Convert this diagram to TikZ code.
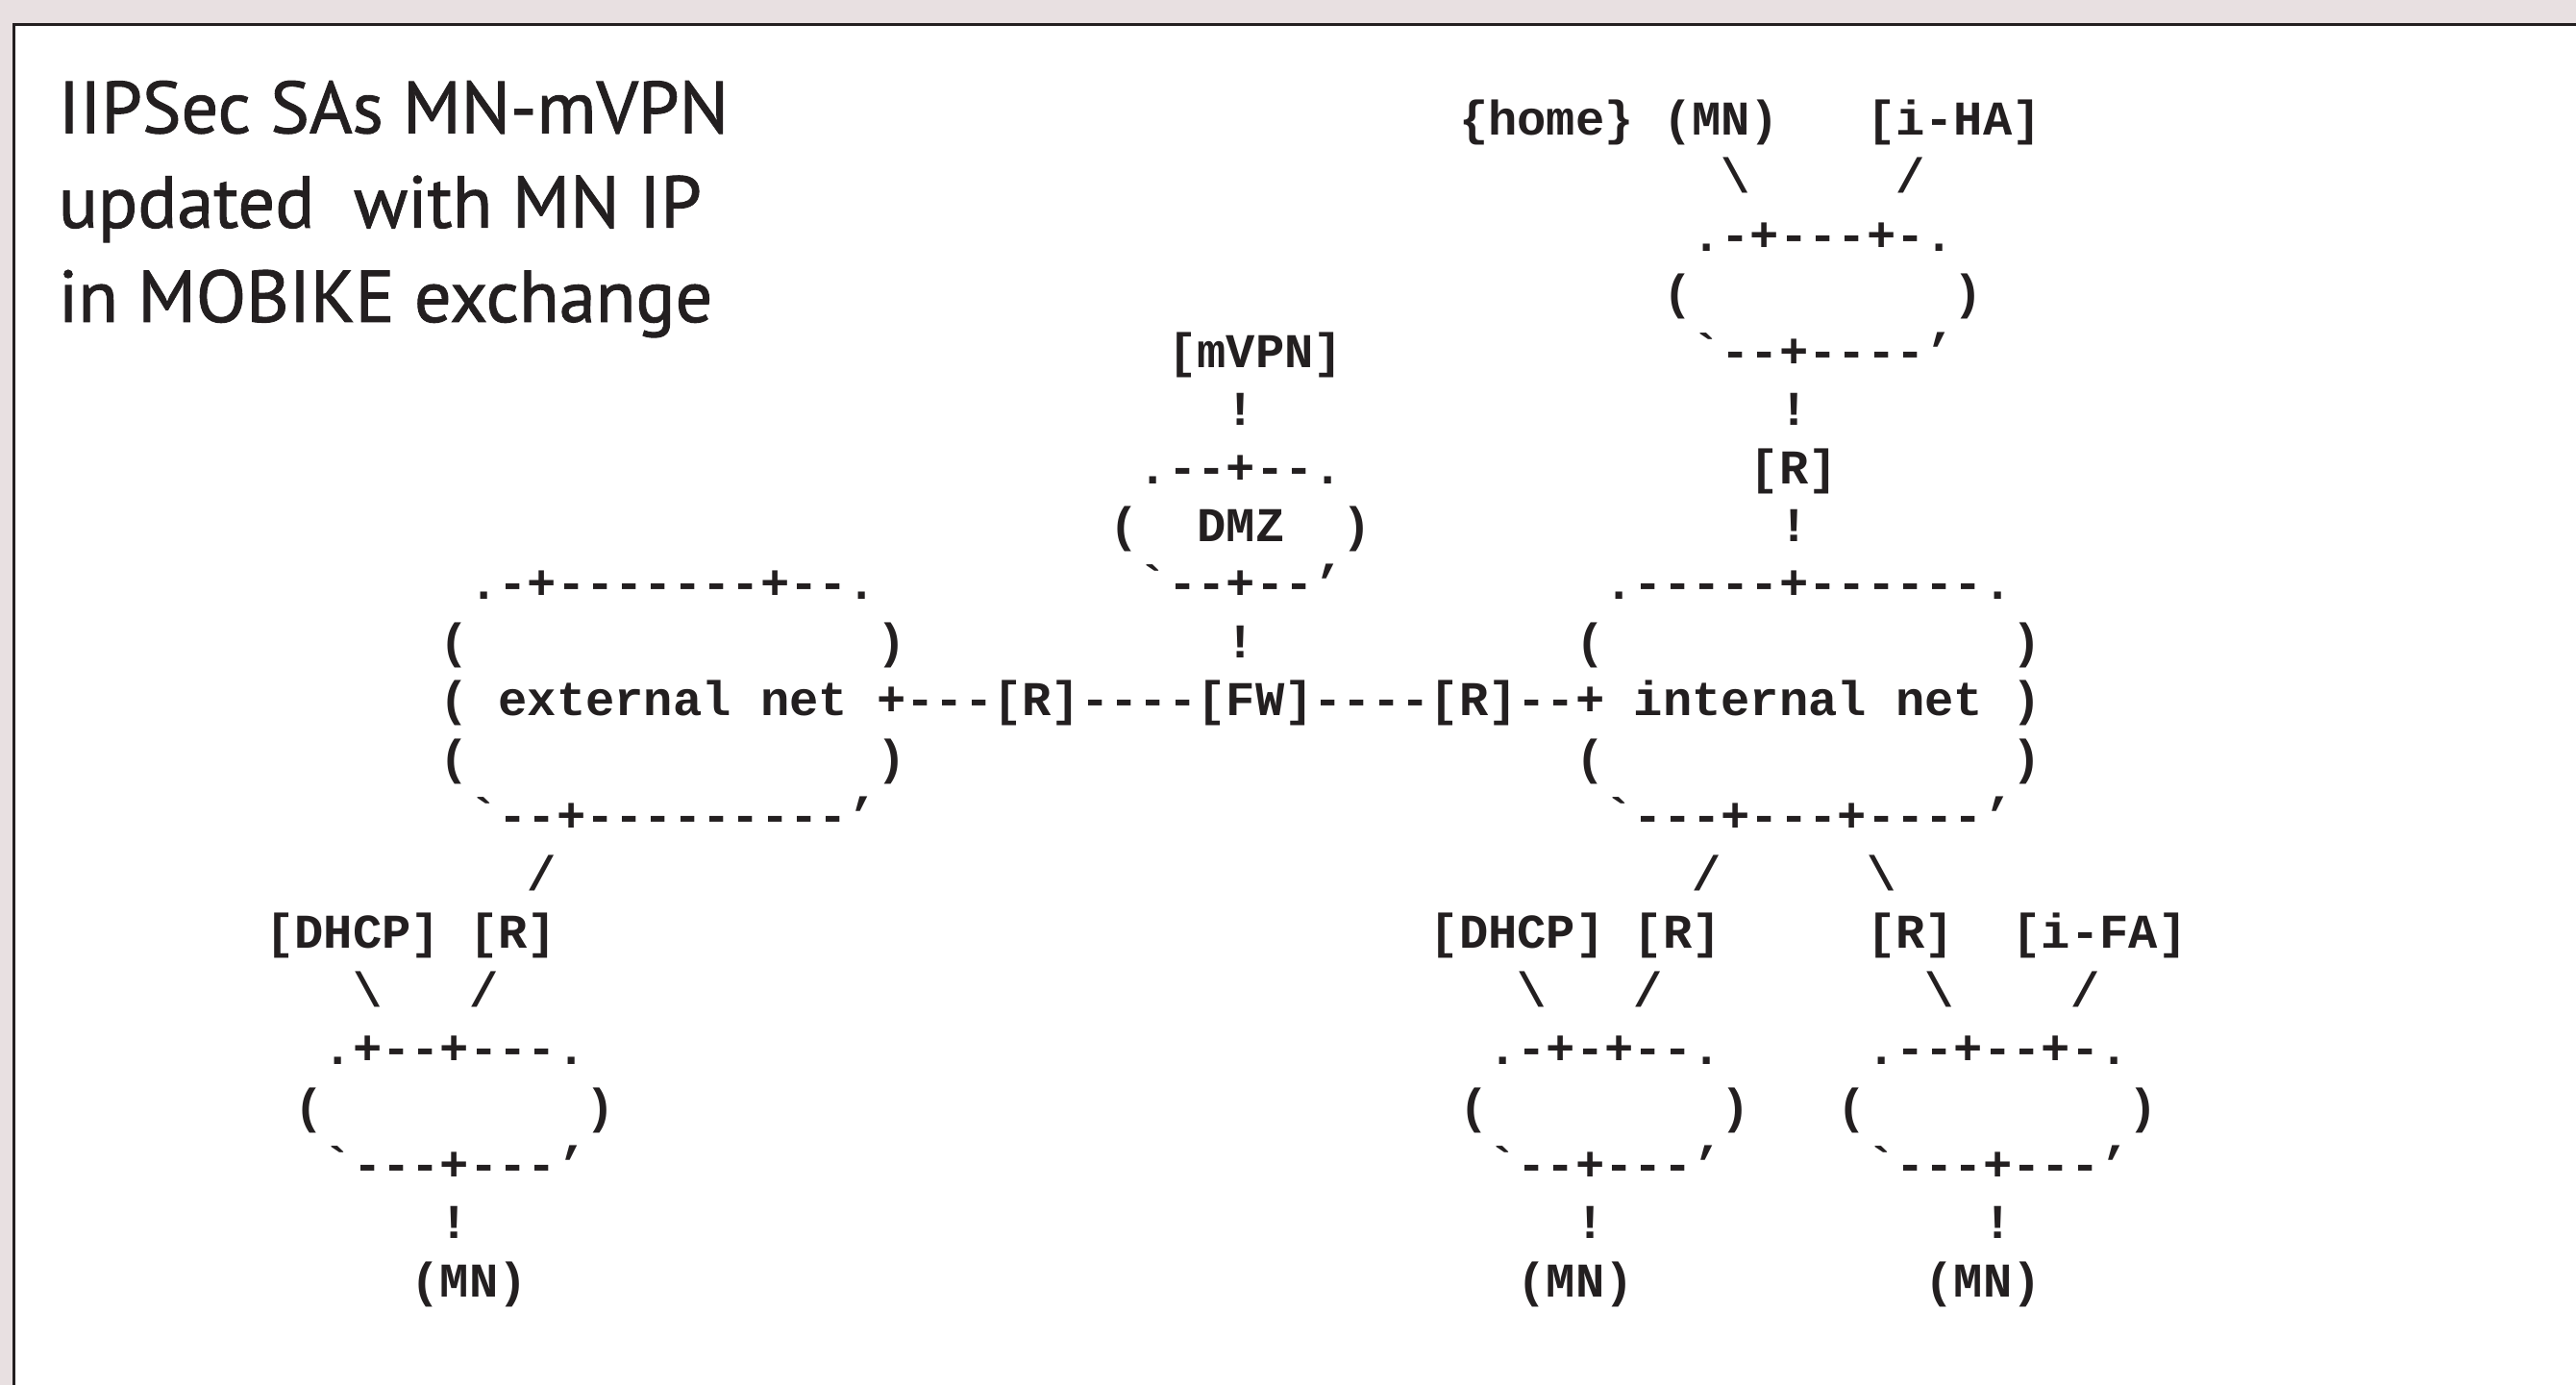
\documentclass[tikz,border=0pt]{standalone}
\usepackage{fontspec}
\setmainfont{PT Sans}
\newfontfamily\titlefont{PT Sans}[FakeBold=1.2]
\setmonofont{Liberation Mono}
\definecolor{bgpink}{RGB}{232,224,225}
\definecolor{ink}{RGB}{35,31,32}
\newcommand\cw{7.5725}
\newcommand\rh{15.1125}
\newcommand\ox{114.475}
\newcommand\oy{-35.1}
\newcommand\ascnode[4]{\node[asc] (#1) at ({\ox+(#2)*\cw},{\oy-(#3)*\rh}) {#4};}
\tikzset{
  asc/.style={anchor=base west, inner sep=0pt, outer sep=0pt, text=ink,
    font=\ttfamily\bfseries\fontsize{12.62}{15}\selectfont},
  ttl/.style={anchor=base west, inner sep=0pt, outer sep=0pt, text=ink,
    font=\titlefont\fontsize{19.1}{22}\selectfont}
}
\begin{document}
\begin{tikzpicture}[x=1pt,y=1pt]
\useasboundingbox (0,0) rectangle (670,-360.25);
\fill[bgpink] (0,0) rectangle (670,-360.25);
\begin{scope}
  \clip (0,0) rectangle (670,-360.25);
  \filldraw[fill=white, draw=ink, line width=0.83pt] (3.625,-6.43) rectangle (720,-420);
\end{scope}
% title
\node[ttl] (t1) at (15.2,-34.6) {IIPSec SAs MN-mVPN};
\node[ttl] (t2) at (15.2,-59.2) {updated\ \ with MN IP};
\node[ttl] (t3) at (15.2,-83.75) {in MOBIKE exchange};
% row 0
\ascnode{home}{35}{0}{\{home\}}
\ascnode{mnhome}{42}{0}{(MN)}
\ascnode{iha}{49}{0}{[i-HA]}
% row 1
\ascnode{h1a}{44}{1}{\textbackslash}
\ascnode{h1b}{50}{1}{/}
% rows 2-4 home net
\ascnode{homtop}{43}{2}{.-+---+-.}
\ascnode{homl}{42}{3}{(}
\ascnode{homr}{52}{3}{)}
\ascnode{mvpn}{25}{4}{[mVPN]}
\ascnode{hombot}{43}{4}{`--+----’}
% row 5-7
\ascnode{v5a}{27}{5}{!}
\ascnode{v5b}{46}{5}{!}
\ascnode{dmztop}{24}{6}{.--+--.}
\ascnode{rhome}{45}{6}{[R]}
\ascnode{dmzl}{23}{7}{(}
\ascnode{dmz}{26}{7}{DMZ}
\ascnode{dmzr}{31}{7}{)}
\ascnode{v7b}{46}{7}{!}
% row 8
\ascnode{exttop}{1}{8}{.-+-------+--.}
\ascnode{dmzbot}{24}{8}{`--+--’}
\ascnode{inttop}{40}{8}{.-----+------.}
% row 9
\ascnode{extl9}{0}{9}{(}
\ascnode{extr9}{15}{9}{)}
\ascnode{v9}{27}{9}{!}
\ascnode{intl9}{39}{9}{(}
\ascnode{intr9}{54}{9}{)}
% row 10
\ascnode{extl10}{0}{10}{(}
\ascnode{ext}{2}{10}{external net}
\ascnode{c1}{15}{10}{+---}
\ascnode{r1}{19}{10}{[R]}
\ascnode{c2}{22}{10}{----}
\ascnode{fw}{26}{10}{[FW]}
\ascnode{c3}{30}{10}{----}
\ascnode{r2}{34}{10}{[R]}
\ascnode{c4}{37}{10}{--+}
\ascnode{int}{41}{10}{internal net}
\ascnode{intr10}{54}{10}{)}
% row 11
\ascnode{extl11}{0}{11}{(}
\ascnode{extr11}{15}{11}{)}
\ascnode{intl11}{39}{11}{(}
\ascnode{intr11}{54}{11}{)}
% row 12
\ascnode{extbot}{1}{12}{`--+---------’}
\ascnode{intbot}{40}{12}{`---+---+----’}
% row 13
\ascnode{s13a}{3}{13}{/}
\ascnode{s13b}{43}{13}{/}
\ascnode{s13c}{49}{13}{\textbackslash}
% row 14
\ascnode{dhcpA}{-6}{14}{[DHCP]}
\ascnode{rA}{1}{14}{[R]}
\ascnode{dhcpB}{34}{14}{[DHCP]}
\ascnode{rB}{41}{14}{[R]}
\ascnode{rC}{49}{14}{[R]}
\ascnode{ifa}{54}{14}{[i-FA]}
% row 15
\ascnode{s15a}{-3}{15}{\textbackslash}
\ascnode{s15b}{1}{15}{/}
\ascnode{s15c}{37}{15}{\textbackslash}
\ascnode{s15d}{41}{15}{/}
\ascnode{s15e}{51}{15}{\textbackslash}
\ascnode{s15f}{56}{15}{/}
% row 16
\ascnode{aTop}{-4}{16}{.+--+---.}
\ascnode{bTop}{36}{16}{.-+-+--.}
\ascnode{cTop}{49}{16}{.--+--+-.}
% row 17
\ascnode{aL}{-5}{17}{(}
\ascnode{aR}{5}{17}{)}
\ascnode{bL}{35}{17}{(}
\ascnode{bR}{44}{17}{)}
\ascnode{cL}{48}{17}{(}
\ascnode{cR}{58}{17}{)}
% row 18
\ascnode{aBot}{-4}{18}{`---+---’}
\ascnode{bBot}{36}{18}{`--+---’}
\ascnode{cBot}{49}{18}{`---+---’}
% row 19
\ascnode{aV}{0}{19}{!}
\ascnode{bV}{39}{19}{!}
\ascnode{cV}{53}{19}{!}
% row 20
\ascnode{mnA}{-1}{20}{(MN)}
\ascnode{mnB}{37}{20}{(MN)}
\ascnode{mnC}{51}{20}{(MN)}
\end{tikzpicture}
\end{document}
